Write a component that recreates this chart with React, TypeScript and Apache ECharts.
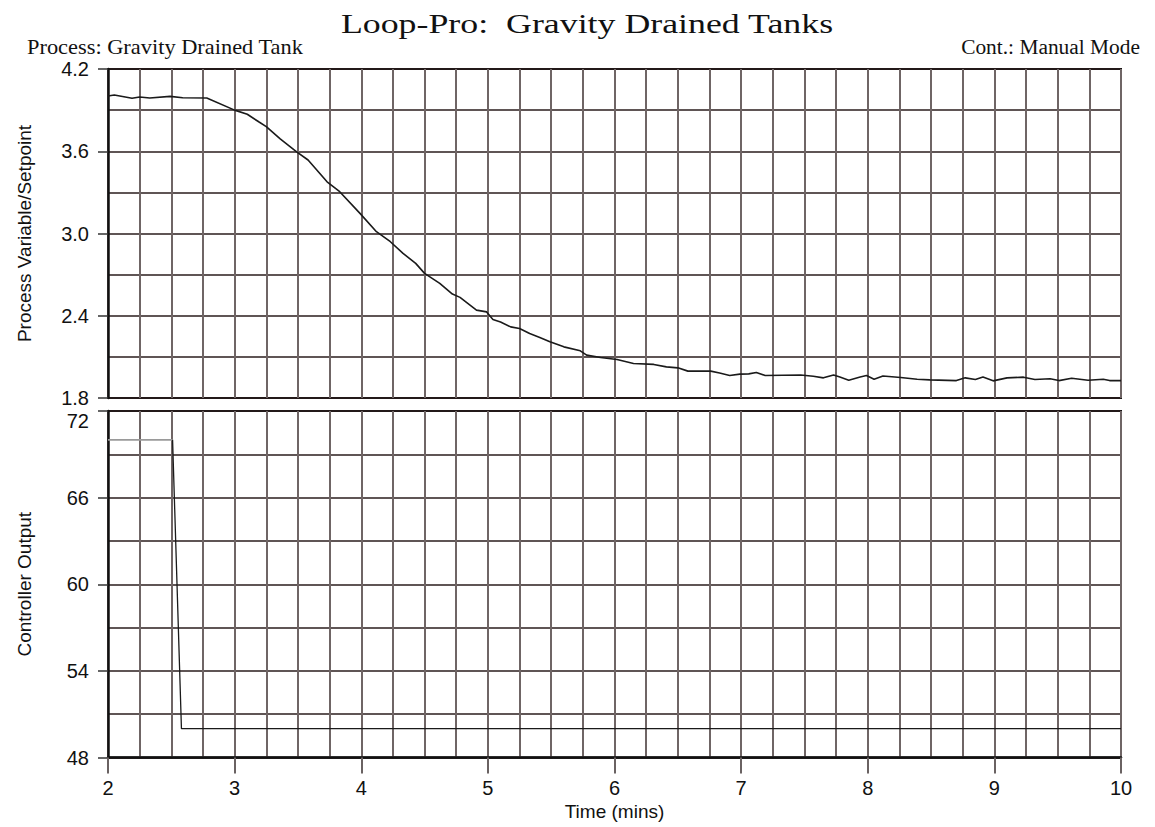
import React, { useEffect, useRef } from "react";
import * as echarts from "echarts";

const titleText = "Loop-Pro:  Gravity Drained Tanks";
const processText = "Process: Gravity Drained Tank";
const contText = "Cont.: Manual Mode";

const pvTime = [2.0, 2.05, 2.19, 2.25, 2.33, 2.49, 2.59, 2.78, 3.0, 3.1, 3.19, 3.25, 3.36, 3.49, 3.58, 3.73, 3.83, 3.99, 4.12, 4.23, 4.33, 4.43, 4.5, 4.62, 4.72, 4.78, 4.91, 4.99, 5.04, 5.1, 5.18, 5.25, 5.33, 5.41, 5.49, 5.6, 5.73, 5.78, 5.89, 6.02, 6.15, 6.31, 6.41, 6.5, 6.58, 6.76, 6.83, 6.91, 6.99, 7.06, 7.12, 7.19, 7.33, 7.47, 7.57, 7.65, 7.73, 7.78, 7.85, 7.94, 7.99, 8.05, 8.12, 8.26, 8.39, 8.49, 8.7, 8.77, 8.85, 8.91, 8.99, 9.1, 9.23, 9.32, 9.44, 9.51, 9.61, 9.74, 9.86, 9.91, 10.0];
const pvValue = [4.003, 4.01, 3.986, 3.996, 3.988, 4.0, 3.99, 3.988, 3.9, 3.87, 3.815, 3.78, 3.69, 3.596, 3.536, 3.377, 3.305, 3.147, 3.013, 2.94, 2.855, 2.782, 2.709, 2.636, 2.558, 2.534, 2.441, 2.428, 2.373, 2.355, 2.319, 2.307, 2.27, 2.242, 2.21, 2.173, 2.144, 2.113, 2.096, 2.081, 2.052, 2.045, 2.027, 2.02, 1.996, 1.996, 1.983, 1.964, 1.974, 1.976, 1.986, 1.964, 1.966, 1.968, 1.959, 1.947, 1.968, 1.953, 1.93, 1.953, 1.964, 1.937, 1.96, 1.95, 1.937, 1.932, 1.927, 1.947, 1.935, 1.953, 1.925, 1.947, 1.952, 1.935, 1.94, 1.927, 1.944, 1.93, 1.937, 1.927, 1.927];

const coHoldTime = [2.0, 2.51];
const coHoldValue = [70, 70];
const coStepTime = [2.51, 2.58, 10.0];
const coStepValue = [70, 50, 50];

const pvTicks = { min: 1.8, max: 4.2, interval: 0.6 };
const coTicks = { min: 48, max: 72, interval: 6 };
const timeTicks = { min: 2, max: 10, interval: 1 };

const zip = (a: number[], b: number[]) => a.map((t, i) => [t, b[i]]);

const FONT = "'Liberation Sans', Arial, sans-serif";
const SERIF = "'Liberation Serif', 'Times New Roman', serif";
const VCOL = "#6f6565";
const HCOL = "#2a1c1c";

export default function App() {
  const ref = useRef<HTMLDivElement>(null);
  useEffect(() => {
    document.body.style.margin = "0";
    const chart = echarts.init(ref.current!, null, { renderer: "svg" });
    const xBase = (idx: number, showLabels: boolean) => ({
      type: "value",
      gridIndex: idx,
      min: timeTicks.min,
      max: timeTicks.max,
      interval: timeTicks.interval,
      axisLine: showLabels ? { show: true, onZero: false, lineStyle: { color: "#111", width: 2.5 } } : { show: false },
      axisTick: showLabels ? { show: true, inside: false, length: 16, lineStyle: { color: "#6a6262", width: 2 } } : { show: false },
      axisLabel: showLabels ? { show: true, color: "#111", fontSize: 20, fontFamily: FONT, margin: 20 } : { show: false },
      splitLine: { show: true, lineStyle: { color: VCOL, width: 2 } },
      minorTick: { show: false, splitNumber: 4 },
      minorSplitLine: { show: true, lineStyle: { color: VCOL, width: 2 } },
      ...(showLabels
        ? { name: "Time (mins)", nameLocation: "middle", nameGap: 44, nameTextStyle: { color: "#111", fontSize: 19, fontFamily: FONT } }
        : {}),
    });
    const yBase = (idx: number, t: { min: number; max: number; interval: number }, name: string, extraLabel: any) => ({
      type: "value",
      gridIndex: idx,
      min: t.min,
      max: t.max,
      interval: t.interval,
      name,
      nameLocation: "middle",
      nameGap: 74,
      nameTextStyle: { color: "#111", fontSize: 19, fontFamily: FONT },
      axisLine: { show: true, onZero: false, lineStyle: { color: "#111", width: 2.5 } },
      axisTick: { show: true, inside: false, length: 10, lineStyle: { color: "#333", width: 1.5 } },
      axisLabel: { show: true, color: "#111", fontSize: 20, fontFamily: FONT, margin: 19, ...extraLabel },
      splitLine: { show: true, lineStyle: { color: HCOL, width: 1.5 } },
      minorTick: { show: false, splitNumber: 2 },
      minorSplitLine: { show: true, lineStyle: { color: HCOL, width: 1.5 } },
    });
    chart.setOption({
      animation: false,
      backgroundColor: "#fff",
      textStyle: { fontFamily: FONT },
      grid: [
        { left: 108, top: 69, width: 1013, height: 329, show: true, borderColor: "#111", borderWidth: 2, containLabel: false },
        { left: 108, top: 411, width: 1013, height: 346.5, show: true, borderColor: "#111", borderWidth: 2, containLabel: false },
      ],
      xAxis: [xBase(0, false), xBase(1, true)],
      yAxis: [
        yBase(0, pvTicks, "Process Variable/Setpoint", { formatter: (v: number) => v.toFixed(1) }),
        yBase(1, coTicks, "Controller Output", { verticalAlignMaxLabel: "top" }),
      ],
      graphic: [
        { type: "text", x: 587, y: 23, scaleX: 1.28, style: { text: titleText, fontSize: 28, fontFamily: SERIF, fill: "#111", textAlign: "center", textVerticalAlign: "middle" } },
        { type: "text", x: 27, y: 47, scaleX: 1.12, style: { text: processText, fontSize: 20, fontFamily: SERIF, fill: "#111", textAlign: "left", textVerticalAlign: "middle" } },
        { type: "text", x: 1140, y: 47, scaleX: 1.07, style: { text: contText, fontSize: 20, fontFamily: SERIF, fill: "#111", textAlign: "right", textVerticalAlign: "middle" } },
      ],
      series: [
        { type: "line", xAxisIndex: 0, yAxisIndex: 0, data: zip(pvTime, pvValue), showSymbol: false, lineStyle: { color: "#1a1a1a", width: 1.6 }, z: 5 },
        { type: "line", xAxisIndex: 1, yAxisIndex: 1, data: zip(coHoldTime, coHoldValue), showSymbol: false, lineStyle: { color: "#9a9a9a", width: 1.6 }, z: 5 },
        { type: "line", xAxisIndex: 1, yAxisIndex: 1, data: zip(coStepTime, coStepValue), showSymbol: false, lineStyle: { color: "#1a1a1a", width: 1.3 }, z: 5 },
      ],
    });
    return () => chart.dispose();
  }, []);
  return <div ref={ref} style={{ width: 1155, height: 827 }} />;
}
